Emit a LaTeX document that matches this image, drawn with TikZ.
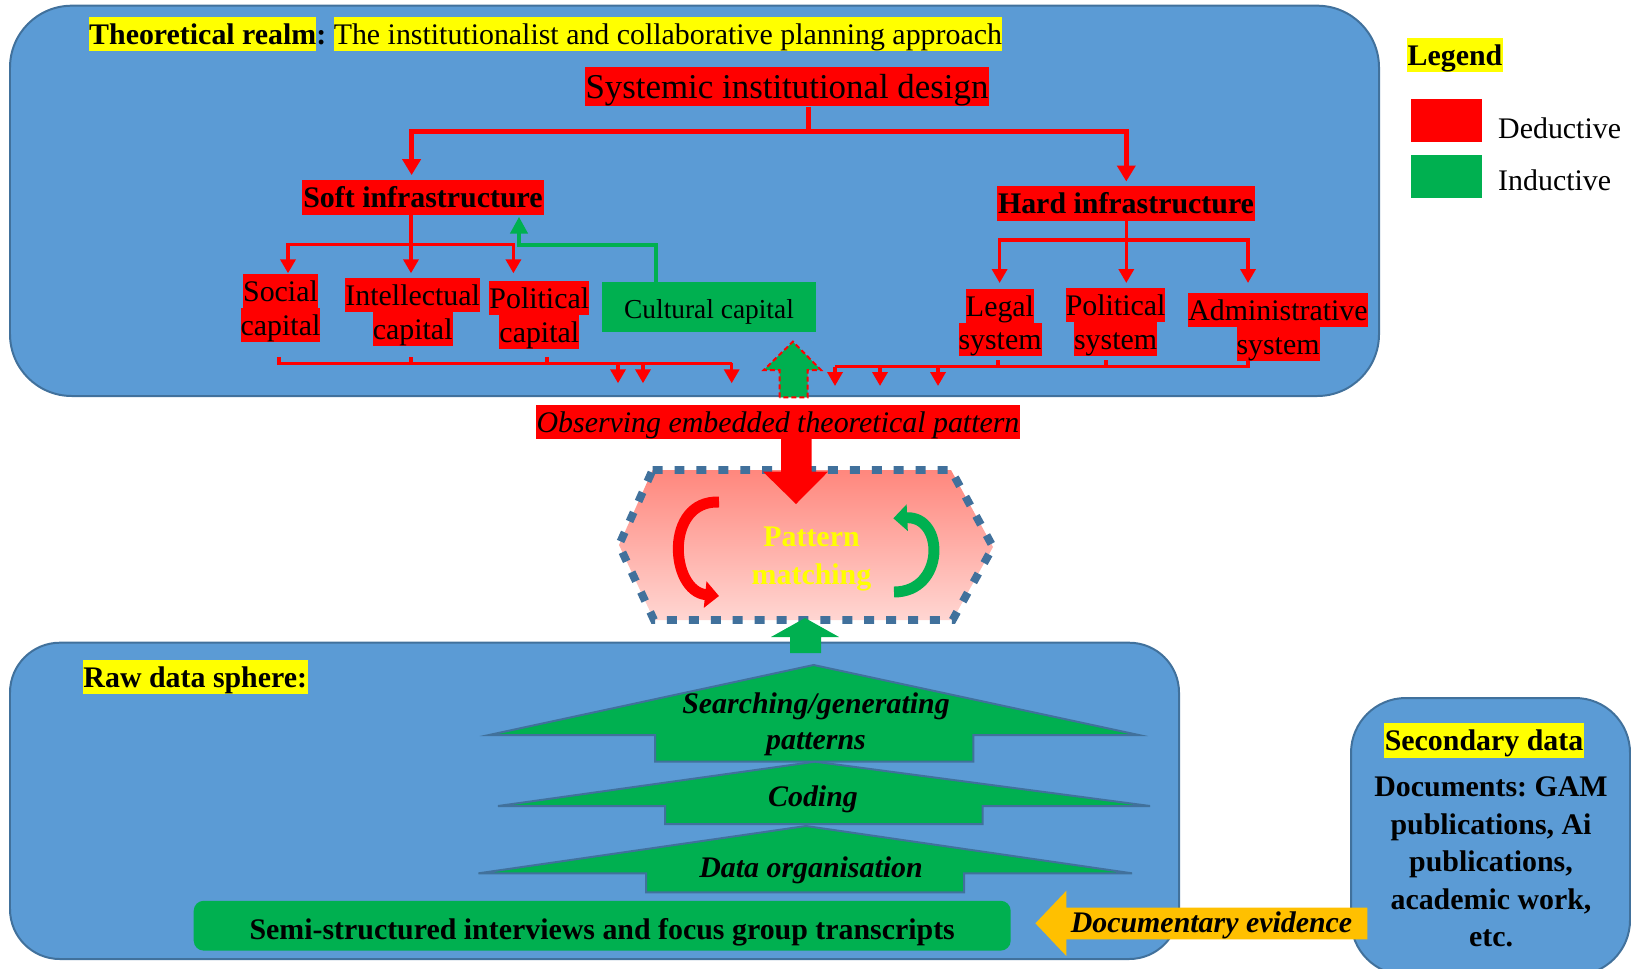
\documentclass[tikz,border=0pt]{standalone}
\usepackage{fontspec}
\setmainfont{Liberation Serif}
\usetikzlibrary{arrows.meta,calc}
\definecolor{boxblue}{HTML}{5B9BD5}
\definecolor{boxedge}{HTML}{41719C}
\definecolor{dgreen}{HTML}{00B050}
\definecolor{hyellow}{HTML}{FFFF00}
\definecolor{orng}{HTML}{FFC000}
\definecolor{hextop}{RGB}{255,135,125}
\definecolor{hexbot}{RGB}{255,214,210}
\newcommand\hlb[2]{{\setlength\fboxsep{0pt}\colorbox{#1}{\rule[-6.5pt]{0pt}{34pt}#2}}}
\newcommand\fthirty{\fontsize{30}{34}\selectfont}
\frenchspacing
\begin{document}
\begin{tikzpicture}[x=1bp,y=-1bp,
 realm/.style={fill=boxblue,draw=boxedge,line width=2pt},
 hlnode/.style={fill=#1,inner xsep=1pt,inner ysep=0pt,text height=27.5pt,text depth=7pt},
 hlnode/.default=red,
 twol/.style={align=center,inner sep=0pt,font=\fthirty},
 mainline/.style={draw=red,line width=5pt},
 mainarr/.style={mainline,-{Triangle[length=16pt,width=18pt]}},
 subline/.style={draw=red,line width=3.5pt},
 subarr/.style={subline,-{Triangle[length=14pt,width=15pt]}},
 indarr/.style={draw=dgreen,line width=5pt,-{Triangle[length=17pt,width=17pt]}},
 blockarr/.style={fill=dgreen,draw=boxedge,line width=2pt},
 steplabel/.style={font=\bfseries\itshape\fthirty,inner sep=0pt},
 cycarr/.style={line width=11pt,-{Triangle[length=14pt,width=26pt]}},
]
\useasboundingbox (0,0) rectangle (1631,968);

% ---------- containers
\draw[realm,rounded corners=62pt] (10,5.7) rectangle (1379,396);
\draw[realm,rounded corners=50pt] (10,642.7) rectangle (1179,959);
\draw[realm,rounded corners=55pt] (1351,698) rectangle (1630,975);

% ---------- theoretical realm
\node[anchor=west,inner sep=0pt,font=\fthirty] (title) at (89,33.7)
  {\hlb{hyellow}{\textbf{Theoretical realm}}\textbf{:} \hlb{hyellow}{The institutionalist and collaborative planning approach}};

\node[hlnode,font=\fontsize{35}{40}\selectfont,text height=31.5pt,text depth=8pt] (sys) at (787,86.7) {Systemic institutional design};
\node[hlnode,font=\bfseries\fthirty] (soft) at (423,197.5) {Soft infrastructure};
\node[hlnode,font=\bfseries\fthirty] (hard) at (1126,203.4) {Hard infrastructure};

\node[twol] (social) at (280.5,308) {\hlb{red}{Social}\\\hlb{red}{capital}};
\node[twol] (intel) at (412.7,311.7) {\hlb{red}{Intellectual}\\\hlb{red}{capital}};
\node[twol] (polcap) at (539.3,315.2) {\hlb{red}{Political}\\\hlb{red}{capital}};
\node[fill=dgreen,minimum width=214pt,minimum height=50pt,inner sep=0pt,text height=22pt,text depth=0pt,font=\fontsize{27.5}{30}\selectfont] (cult) at (709,307.3) {Cultural capital};
\node[twol] (legal) at (1000,322.5) {\hlb{red}{Legal}\\\hlb{red}{system}};
\node[twol] (polsys) at (1115.6,322) {\hlb{red}{Political}\\\hlb{red}{system}};
\node[twol] (admin) at (1278,327) {\hlb{red}{Administrative}\\\hlb{red}{system}};

% main split
\coordinate (sysbus) at (808.5,131.7);
\coordinate (sx) at (411.6,0);
\coordinate (hx) at (1126.3,0);
\draw[mainline] (sys.south -| sysbus) -- (sysbus);
\draw[mainarr] (sysbus) -| ($(soft.north -| sx)+(0,-5)$);
\draw[mainarr] (sysbus) -| ($(hard.north -| hx)+(0,-4.5)$);

% soft split
\coordinate (sbus) at (411,244.3);
\coordinate (s1) at (288,0);
\coordinate (s3) at (513.4,0);
\coordinate (sy) at (0,273.3);
\draw[subline] (soft.south -| sbus) -- (sbus);
\draw[subarr] (sbus) -| (s1 |- sy);
\draw[subarr] (sbus) -- (sbus |- sy);
\draw[subarr] (sbus) -| (s3 |- sy);

% hard split
\coordinate (hbus) at (1126.3,240);
\coordinate (h1) at (999.6,0);
\coordinate (h3) at (1248,0);
\coordinate (hy) at (0,283);
\draw[subline] (hard.south -| hbus) -- (hbus);
\draw[subarr] (hbus) -| (h1 |- hy);
\draw[subarr] (hbus) -- (hbus |- hy);
\draw[subarr] (hbus) -| (h3 |- hy);

% inductive link
\coordinate (g1) at (656,245);
\coordinate (g2) at (519,216.7);
\draw[indarr] (cult.north -| g1) -- (g1) -| (g2);

% bottom collectors (left)
\coordinate (lb0) at (279,363.3);
\coordinate (lb1) at (731.7,363.3);
\coordinate (ly) at (0,357);
\draw[subline] (lb0 |- ly) -- (lb0) -- (lb1);
\draw[subline] (411,357) -- (411,363.3);
\draw[subline] (547,357) -- (547,363.3);
\foreach \x in {618,643,731.7} \draw[subarr] (\x,363.3) -- (\x,383.3);

% bottom collectors (right)
\coordinate (rb0) at (835,366.7);
\draw[subline] (admin.south -| h3) |- (rb0);
\draw[subline] (998,360) -- (998,366.7);
\draw[subline] (1106,360) -- (1106,366.7);
\foreach \x in {835,880,938} \draw[subarr] (\x,366.7) -- (\x,386);

% dashed green up arrow
\draw[fill=dgreen,draw=red,dash pattern=on 5pt off 3pt,line width=2pt] (779.5,397.3) -- (779.5,370) -- (763.8,370) -- (792.9,341.7) -- (821,370) -- (807.6,370) -- (807.6,397.3) -- cycle;

% observing
\node[hlnode,font=\itshape\fthirty] (obs) at (778,422) {Observing embedded theoretical pattern};

% ---------- pattern matching
\draw[top color=hextop,bottom color=hexbot,draw=boxedge,line width=8pt,dash pattern=on 10pt off 12pt]
  (652.6,470) -- (951,470) -- (993,547) -- (952.6,620) -- (654,620) -- (619,545) -- cycle;
\fill[red] (781,439) -- (811.6,439) -- (811.6,471.7) -- (828,471.7) -- (796,504) -- (763,471.7) -- (781,471.7) -- cycle;
\fill[dgreen] (790,653) -- (790,637) -- (771,637) -- (805,618) -- (839,637) -- (821,637) -- (821,653) -- cycle;
\draw[cycarr,red] (719,502) .. controls (664,500) and (670,591) .. (719,596);
\draw[cycarr,dgreen] (894,592) .. controls (945,592) and (945,516) .. (893.3,518.3);
\node[font=\bfseries\fontsize{30}{38}\selectfont,text=hyellow,align=center,inner sep=0pt] (pm) at (811.5,559) {Pattern\\matching};

% ---------- raw data sphere
\node[hlnode=hyellow,font=\bfseries\fthirty] (raw) at (195.3,677) {Raw data sphere:};

\draw[blockarr] (813.6,665) -- (1138.7,735) -- (973.4,735) -- (973.4,761.7) -- (655,761.7) -- (655,735) -- (489,735) -- cycle;
\draw[blockarr] (815,761.7) -- (1150,806) -- (982.6,806) -- (982.6,824) -- (665,824) -- (665,806) -- (498,806) -- cycle;
\draw[blockarr] (806,826) -- (1132,873.3) -- (964,873.3) -- (964,892.3) -- (646,892.3) -- (646,873.3) -- (478.5,873.3) -- cycle;
\node[steplabel,align=center,font=\bfseries\itshape\fontsize{30}{36}\selectfont] (search) at (816,724) {Searching/generating\\patterns};
\node[steplabel] (coding) at (813,799) {Coding};
\node[steplabel] (dataorg) at (811,870) {Data organisation};

\node[fill=dgreen,rounded corners=10pt,minimum width=820pt,minimum height=50pt,inner sep=0pt,text height=28pt,text depth=0pt,font=\bfseries\fthirty] (semi) at (602.2,925.7)
  {Semi-structured interviews and focus group transcripts};

% ---------- secondary data
\fill[orng] (1035.4,923.3) -- (1066.4,890.7) -- (1066.4,907.7) -- (1367.4,907.7) -- (1367.4,939.3) -- (1066.4,939.3) -- (1066.4,956) -- cycle;
\node[steplabel] (docev) at (1211.5,925) {Documentary evidence};
\node[hlnode=hyellow,font=\bfseries\fthirty] (secd) at (1484,740.4) {Secondary data};
\node[align=center,inner sep=0pt,font=\bfseries\fontsize{30}{37.5}\selectfont] (docs) at (1491,862)
  {Documents: GAM\\publications, Ai\\publications,\\academic work,\\etc.};

% ---------- legend
\node[hlnode=hyellow,font=\bfseries\fthirty] (legend) at (1455,55.3) {Legend};
\node[fill=red,minimum width=71pt,minimum height=43pt,inner sep=0pt] (legR) at (1446.5,120.8) {};
\node[fill=dgreen,minimum width=71pt,minimum height=43pt,inner sep=0pt] (legG) at (1446.5,176.4) {};
\node[anchor=west,inner sep=0pt,font=\fthirty] (legRt) at (1498,128) {Deductive};
\node[anchor=west,inner sep=0pt,font=\fthirty] (legGt) at (1498,180) {Inductive};
\end{tikzpicture}
\end{document}
